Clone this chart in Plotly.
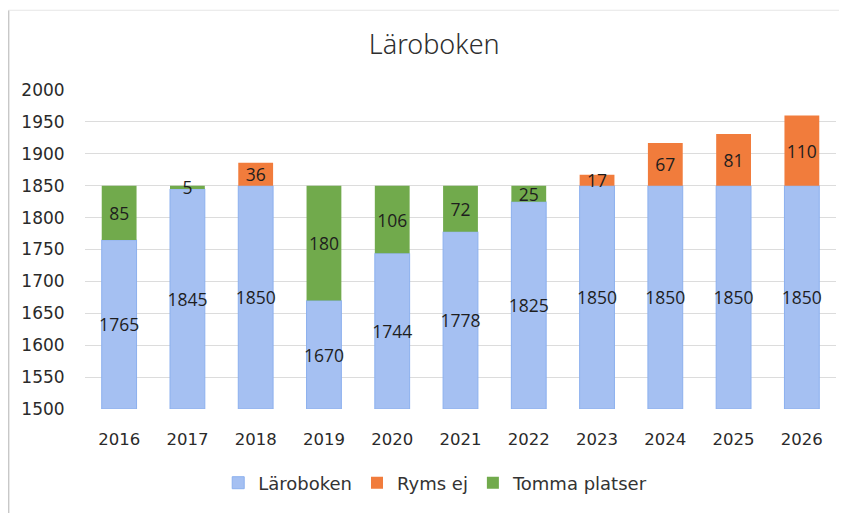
import plotly.graph_objects as go

years = ["2016", "2017", "2018", "2019", "2020", "2021", "2022", "2023", "2024", "2025", "2026"]
laroboken = [1765, 1845, 1850, 1670, 1744, 1778, 1825, 1850, 1850, 1850, 1850]
ryms_ej = [0, 0, 36, 0, 0, 0, 0, 17, 67, 81, 110]
tomma_platser = [85, 5, 0, 180, 106, 72, 25, 0, 0, 0, 0]
y_ticks = [1500, 1550, 1600, 1650, 1700, 1750, 1800, 1850, 1900, 1950, 2000]
y_min = 1500
y_max = 2000

blue = "#a5c0f2"
blue_line = "#8cb0ee"
orange = "#f17c3c"
green = "#71aa4c"
label_font = dict(family="Open Sans, Liberation Sans, sans-serif", size=17.5, color="#1e1e1e")

fig = go.Figure()
fig.add_trace(go.Bar(
    name="Läroboken", x=years, y=[v - y_min for v in laroboken], base=y_min,
    text=[str(v) for v in laroboken], textposition="inside", insidetextanchor="middle",
    textangle=0, textfont=label_font,
    marker=dict(color=blue, line=dict(color=blue_line, width=1)),
    width=0.51, constraintext="none",
))
fig.add_trace(go.Bar(
    name="Ryms ej", x=years, y=ryms_ej, base=laroboken,
    text=[str(v) if v else "" for v in ryms_ej], textposition="inside", insidetextanchor="middle",
    textangle=0, textfont=label_font,
    marker=dict(color=orange, line=dict(color=orange, width=0)),
    width=0.51, constraintext="none",
))
fig.add_trace(go.Bar(
    name="Tomma platser", x=years, y=tomma_platser, base=laroboken,
    text=[str(v) if v else "" for v in tomma_platser], textposition="inside", insidetextanchor="middle",
    textangle=0, textfont=label_font,
    marker=dict(color=green, line=dict(color=green, width=0)),
    width=0.51, constraintext="none",
))

fig.update_layout(
    width=839, height=505,
    barmode="overlay",
    paper_bgcolor="white", plot_bgcolor="white",
    margin=dict(l=77, r=11, t=82, b=104, autoexpand=False),
    title=dict(text="Läroboken", x=0.508, xanchor="center", y=0.927, yanchor="middle",
               font=dict(family="Noto Sans, sans-serif", size=27, color="#2e2e2e", weight=300)),
    font=dict(family="DejaVu Sans, sans-serif", size=16, color="#333333"),
    showlegend=True,
    legend=dict(orientation="h", x=0.467, xanchor="center", y=-0.232, yanchor="middle",
                font=dict(family="DejaVu Sans, sans-serif", size=18, color="#333333"),
                itemwidth=30, traceorder="normal"),
)
fig.update_yaxes(range=[y_min, y_max], tickvals=y_ticks, showgrid=True, gridcolor="#dcdcdc",
                 gridwidth=1, zeroline=False, showline=False, ticks="outside", ticklen=16,
                 tickcolor="rgba(0,0,0,0)", tickfont=dict(size=17, color="#2a2a2a"))
fig.update_xaxes(showgrid=False, showline=False, ticks="outside", ticklen=15,
                 tickcolor="rgba(0,0,0,0)", tickfont=dict(size=16.5, color="#2a2a2a"))

# chart border (left and top edges, as in the reference)
fig.add_shape(type="line", xref="paper", yref="paper", x0=-0.102, x1=-0.102, y0=-0.33, y1=1.25,
              line=dict(color="#c8c8c8", width=2))
fig.add_shape(type="line", xref="paper", yref="paper", x0=-0.102, x1=1.014, y0=1.25, y1=1.25,
              line=dict(color="#e6e6e6", width=1))

fig.write_html("out.html")
